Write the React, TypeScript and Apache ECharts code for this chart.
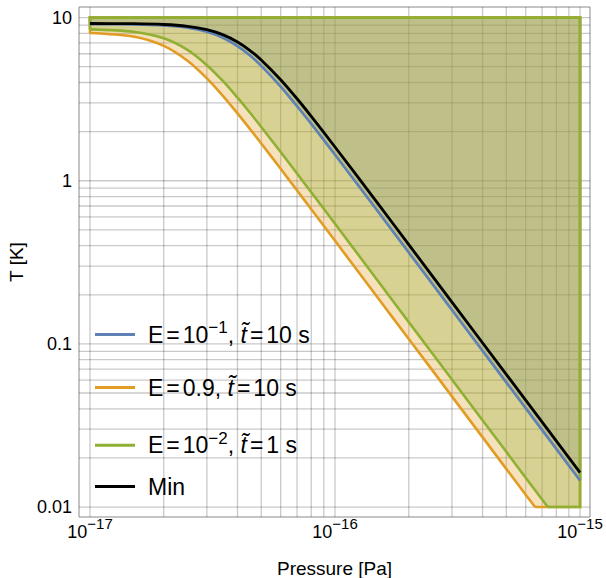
import React, { useEffect, useRef } from 'react';
import * as echarts from 'echarts';

const FONT = '"Liberation Sans", Arial, Helvetica, sans-serif';

// Pressure mantissas (×1e-17 Pa) and temperatures [K]
const P_UNIT = 1e-17;
const P_COMMON = [1, 1.5, 2, 2.5, 3, 3.5, 4, 4.5, 5, 6, 7, 8, 10, 15, 20, 30, 50, 100];

const T_BLACK = [9.2, 9.17, 9.07, 8.84, 8.43, 7.83, 7.08, 6.28, 5.5, 4.16, 3.18, 2.48, 1.61, 0.721, 0.406, 0.1804, 0.065, 0.01626];
const T_BLUE = [9.11, 9.07, 8.95, 8.67, 8.18, 7.5, 6.68, 5.85, 5.06, 3.78, 2.86, 2.23, 1.442, 0.645, 0.363, 0.1613, 0.0581, 0.01454];

const P_GREEN = [1, 1.5, 2, 2.5, 3, 3.5, 4, 4.5, 5, 6, 7, 8, 10, 15, 20, 30, 50, 70, 73.8];
const T_GREEN = [8.47, 8.19, 7.47, 6.34, 5.11, 4.06, 3.23, 2.61, 2.136, 1.5, 1.107, 0.849, 0.5445, 0.242, 0.136, 0.0605, 0.0218, 0.01112, 0.01];

const P_ORANGE = [1, 1.5, 2, 2.5, 3, 3.5, 4, 4.5, 5, 6, 7, 8, 10, 15, 20, 30, 50, 60, 65.5];
const T_ORANGE = [8.05, 7.65, 6.71, 5.44, 4.24, 3.29, 2.586, 2.072, 1.692, 1.184, 0.872, 0.668, 0.4285, 0.1905, 0.1072, 0.0477, 0.01714, 0.0119, 0.01];

// Region limits
const P_LEFT = 1e-17;
const P_RIGHT = 1e-15;
const T_TOP = 10;
const T_FLOOR = 0.01;

// Axis extents
const X_MIN = 9.02e-18;
const X_MAX = 1.098e-15;
const Y_MIN = 0.00869;
const Y_MAX = 11.61;

// Tick labels
const X_TICK_EXP: Record<string, string> = { '-17': '−17', '-16': '−16', '-15': '−15' };
const Y_TICK_LABELS: Record<string, string> = { '-2': '0.01', '-1': '0.1', '0': '1', '1': '10' };

// Grid lines
const MANTISSAS = [1, 2, 3, 4, 5, 6, 7, 8, 9];
const X_DECADES = [1e-17, 1e-16];
const Y_DECADES = [0.01, 0.1, 1];

const NAMES = ['blue', 'orange', 'green', 'min'];
const COLORS = ['#5E81B5', '#E19C24', '#8FB032', '#000000'];
const LEGEND_TEXT = [
  '{f|E}{e|=}{n|10}{s|−1}{n|, }{t|t\u0303}{e|=}{n|10 s}',
  '{f|E}{e|=}{n|0.9, }{t|t\u0303}{e|=}{n|10 s}',
  '{f|E}{e|=}{n|10}{s|−2}{n|, }{t|t\u0303}{e|=}{n|1 s}',
  '{f|Min}',
];

export default function App() {
  const ref = useRef<HTMLDivElement>(null);
  useEffect(() => {
    if (!ref.current) return;
    const chart = echarts.init(ref.current, undefined, { renderer: 'svg' });

    const pts = (ps: number[], ts: number[]) => ps.map((p, i) => [p * P_UNIT, ts[i]]);
    const curves = [
      pts(P_COMMON, T_BLUE),
      pts(P_ORANGE, T_ORANGE),
      pts(P_GREEN, T_GREEN),
      pts(P_COMMON, T_BLACK),
    ];
    const regions = [
      { curve: curves[0], bound: [[P_RIGHT, T_TOP], [P_LEFT, T_TOP]], fill: 'rgba(94,129,190,0.3)', color: COLORS[0] },
      { curve: curves[1], bound: [[P_RIGHT, T_FLOOR], [P_RIGHT, T_TOP], [P_LEFT, T_TOP]], fill: 'rgba(225,156,36,0.3)', color: COLORS[1] },
      { curve: curves[2], bound: [[P_RIGHT, T_FLOOR], [P_RIGHT, T_TOP], [P_LEFT, T_TOP]], fill: 'rgba(143,176,50,0.3)', color: COLORS[2] },
    ];

    const gridX = X_DECADES.flatMap((d) => MANTISSAS.map((m) => m * d)).concat([P_RIGHT]);
    const gridY = Y_DECADES.flatMap((d) => MANTISSAS.map((m) => m * d)).concat([T_TOP]);
    const gridLines = [
      ...gridX.map((v) => [[v, Y_MIN], [v, Y_MAX]]),
      ...gridY.map((v) => [[X_MIN, v], [X_MAX, v]]),
    ];

    const LW = 2.6;
    const richBase = { fontFamily: FONT, color: '#000' };

    const option: any = {
      animation: false,
      grid: {
        left: 79, top: 7, width: 511, height: 510, outerBoundsMode: 'none', containLabel: false,
        show: true, borderColor: '#8a8a8a', borderWidth: 1, backgroundColor: 'transparent',
      },
      xAxis: {
        type: 'log', logBase: 10, min: X_MIN, max: X_MAX,
        axisLine: { show: false }, axisTick: { show: false }, splitLine: { show: false },
        axisLabel: {
          showMinLabel: false, showMaxLabel: false, margin: 5,
          formatter: (v: number) => {
            const e = Math.log10(v);
            const r = Math.round(e);
            if (Math.abs(e - r) > 1e-6) return '';
            const s = X_TICK_EXP[String(r)];
            return s ? `{b|10}{s|${s}}` : '';
          },
          rich: {
            b: { ...richBase, fontSize: 18, lineHeight: 20 },
            s: { ...richBase, fontSize: 15, lineHeight: 15, padding: [0, 0, 17, 0] },
          },
        },
        name: 'Pressure [Pa]', nameLocation: 'middle', nameGap: 42,
        nameTextStyle: { fontFamily: FONT, fontSize: 19, color: '#000' },
      },
      yAxis: {
        type: 'log', logBase: 10, min: Y_MIN, max: Y_MAX,
        axisLine: { show: false }, axisTick: { show: false }, splitLine: { show: false },
        axisLabel: {
          showMinLabel: false, showMaxLabel: false, margin: 7,
          fontFamily: FONT, fontSize: 18, color: '#000',
          formatter: (v: number) => {
            const e = Math.log10(v);
            const r = Math.round(e);
            if (Math.abs(e - r) > 1e-6) return '';
            return Y_TICK_LABELS[String(r)] || '';
          },
        },
        name: 'T [K]', nameLocation: 'middle', nameGap: 51,
        nameTextStyle: { fontFamily: FONT, fontSize: 19, color: '#000' },
      },
      legend: NAMES.map((n, i) => ({
        data: [n],
        left: 95,
        top: [319, 376, 429.7, 475][i],
        padding: 0,
        icon: 'rect',
        itemWidth: 40,
        itemHeight: 3,
        selectedMode: false,
        formatter: () => LEGEND_TEXT[i],
        textStyle: {
          ...richBase, fontSize: 23,
          rich: {
            f: { ...richBase, fontSize: 23, lineHeight: 27, padding: [0, 0, 0, 8] },
            n: { ...richBase, fontSize: 23, lineHeight: 27 },
            e: { ...richBase, fontSize: 23, lineHeight: 27, padding: [0, 3, 0, 3] },
            t: { ...richBase, fontSize: 23, lineHeight: 27, fontStyle: 'italic' },
            s: { ...richBase, fontSize: 17, lineHeight: 17, padding: [0, 0, 14, 0] },
          },
        },
      })),
      series: [
        {
          type: 'custom', name: '_grid', silent: true, z: 1,
          data: gridLines.map(() => [1e-16, 1]),
          renderItem: (params: any, api: any) => {
            const [a, b] = gridLines[params.dataIndex];
            const p1 = api.coord(a);
            const p2 = api.coord(b);
            return {
              type: 'line',
              shape: { x1: p1[0], y1: p1[1], x2: p2[0], y2: p2[1] },
              style: { stroke: 'rgba(0,0,0,0.21)', lineWidth: 1.3 },
            };
          },
        },
        {
          type: 'custom', name: '_fill', silent: true, z: 2,
          data: regions.map(() => [1e-16, 1]),
          renderItem: (params: any, api: any) => {
            const r = regions[params.dataIndex];
            const c = r.curve.map((p) => api.coord(p));
            const b = r.bound.map((p) => api.coord(p));
            return {
              type: 'group',
              children: [
                { type: 'polygon', shape: { points: c.concat(b) }, style: { fill: r.fill, stroke: 'none' } },
                {
                  type: 'polyline',
                  shape: { points: [c[c.length - 1], ...b, c[0]] },
                  style: { stroke: r.color, lineWidth: LW, fill: 'none', lineJoin: 'miter' },
                },
              ],
            };
          },
        },
        ...NAMES.map((n, i) => ({
          type: 'line', name: n, data: curves[i], symbol: 'none', showSymbol: false,
          smooth: 0.3, z: 3 + i, silent: true,
          lineStyle: { color: COLORS[i], width: i === 3 ? 2.8 : LW },
          itemStyle: { color: COLORS[i] },
          emphasis: { disabled: true },
        })),
      ],
    };
    chart.setOption(option);
    return () => chart.dispose();
  }, []);
  return <div ref={ref} style={{ position: 'absolute', left: 0, top: 0, width: 606, height: 578 }} />;
}
